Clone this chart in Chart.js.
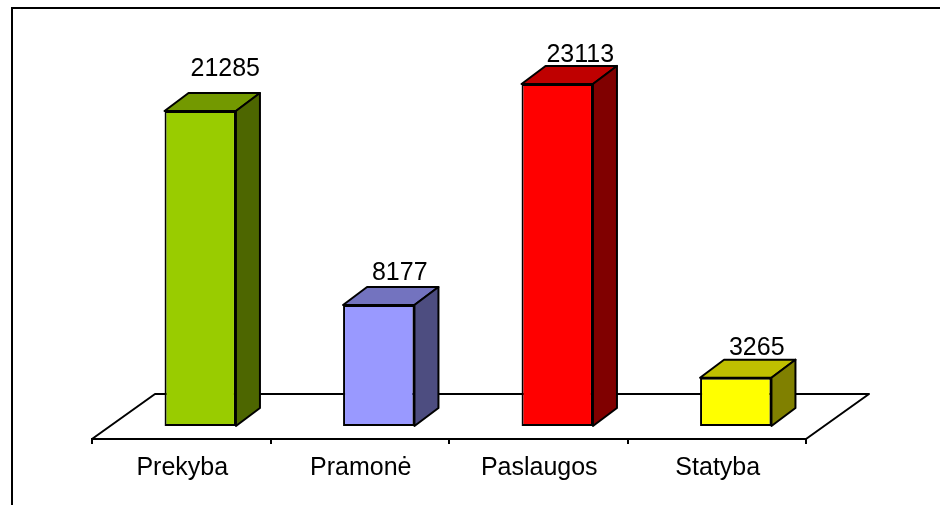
<!DOCTYPE html>
<html>
<head>
<meta charset="utf-8">
<style>
  html, body { margin: 0; background: #fff; overflow: hidden; }
  canvas { display: block; }
</style>
<script src="https://cdn.jsdelivr.net/npm/chart.js@4"></script>
</head>
<body>
<canvas id="chart" width="940" height="505"></canvas>
<script>
const categories = ["Prekyba", "Pramonė", "Paslaugos", "Statyba"];
const values = [21285, 8177, 23113, 3265];

const frontColors = ["#99cc00", "#9999ff", "#ff0000", "#ffff00"];
const topColors = ["#739900", "#7373bf", "#bf0000", "#bfbf00"];
const sideColors = ["#4d6600", "#4d4d80", "#800000", "#808000"];

// label position tweaks, the original has some labels moved by hand
const labelNudgeX = [1, -3, -1, -3];
const labelNudgeY = [-17, -7, -4, -5];

const FONT = "25px 'Liberation Sans', Arial, sans-serif";
const shift = { x: 19, y: -13 };   // bars stand in the middle of the floor
const depth = { x: 24, y: -18 };   // bar depth
const floor = { x: 63, y: -45 };   // floor depth

function poly(ctx, pts, fill) {
    ctx.beginPath();
    pts.forEach((p, i) => i ? ctx.lineTo(p[0], p[1]) : ctx.moveTo(p[0], p[1]));
    if (fill) {
        ctx.closePath();
        ctx.fillStyle = fill;
        ctx.fill();
    }
    ctx.stroke();
}

const fakeThreeD = {
    id: "fakeThreeD",
    beforeDatasetsDraw(chart) {
        const { ctx, chartArea: { left, right, bottom } } = chart;
        ctx.save();
        ctx.strokeStyle = "#000";
        ctx.lineWidth = 2;
        ctx.lineJoin = "round";

        // floor
        poly(ctx, [
            [left, bottom],
            [left + floor.x, bottom + floor.y],
            [right + floor.x, bottom + floor.y],
            [right, bottom]
        ]);

        ctx.translate(shift.x, shift.y);
        chart.getDatasetMeta(0).data.forEach((bar, i) => {
            const l = bar.x - bar.width / 2;
            const r = bar.x + bar.width / 2;
            poly(ctx, [
                [l, bar.y],
                [l + depth.x, bar.y + depth.y],
                [r + depth.x, bar.y + depth.y],
                [r, bar.y]
            ], topColors[i]);
            poly(ctx, [
                [r, bar.y],
                [r + depth.x, bar.y + depth.y],
                [r + depth.x, bar.base + depth.y],
                [r, bar.base]
            ], sideColors[i]);
        });
    },
    afterDatasetsDraw(chart) {
        const { ctx } = chart;
        ctx.restore();

        // value labels
        ctx.save();
        ctx.font = FONT;
        ctx.fillStyle = "#000";
        ctx.textAlign = "center";
        ctx.textBaseline = "alphabetic";
        chart.getDatasetMeta(0).data.forEach((bar, i) => {
            ctx.fillText(
                values[i],
                bar.x + shift.x + depth.x + labelNudgeX[i],
                bar.y + shift.y + depth.y + labelNudgeY[i]
            );
        });
        ctx.restore();
    },
    afterDraw(chart) {
        // outer frame, runs off the right and bottom of the picture
        const { ctx, width, height } = chart;
        ctx.save();
        ctx.strokeStyle = "#000";
        ctx.lineWidth = 2;
        ctx.beginPath();
        ctx.moveTo(12, height);
        ctx.lineTo(12, 8);
        ctx.lineTo(width, 8);
        ctx.stroke();
        ctx.restore();
    }
};

new Chart(document.getElementById("chart"), {
    type: "bar",
    data: {
        labels: categories,
        datasets: [{
            data: values,
            backgroundColor: frontColors,
            borderColor: "#000",
            borderWidth: 2,
            borderSkipped: false,
            categoryPercentage: 0.4,
            barPercentage: 1,
            clip: false
        }]
    },
    options: {
        responsive: false,
        animation: false,
        layout: { padding: { left: 92, right: 134, top: 69, bottom: 0 } },
        plugins: {
            legend: { display: false },
            title: { display: false },
            tooltip: { enabled: false }
        },
        scales: {
            x: {
                afterFit(scale) { scale.height = 66; },
                grid: { drawOnChartArea: false, color: "#000", tickLength: 5, lineWidth: 2 },
                border: { color: "#000", width: 2 },
                ticks: {
                    color: "#000",
                    padding: 9,
                    labelOffset: 1,
                    maxRotation: 0,
                    font: { family: "'Liberation Sans', Arial, sans-serif", size: 25 }
                }
            },
            y: {
                display: false,
                min: 0,
                max: 25000
            }
        }
    },
    plugins: [fakeThreeD]
});
</script>
</body>
</html>
